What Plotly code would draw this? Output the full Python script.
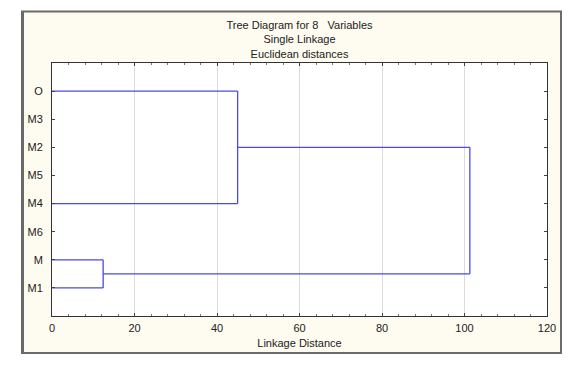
import plotly.graph_objects as go

# ---- data ----
labels = ["O", "M3", "M2", "M5", "M4", "M6", "M", "M1"]
merge_left = ["O", "M", "C1"]
merge_right = ["M4", "M1", "C2"]
merge_height = [45.0, 12.4, 101.3]
merge_name = ["C1", "C2", "C3"]
x_ticks = [0, 20, 40, 60, 80, 100, 120]

# ---- build dendrogram segments ----
pos = {lab: float(i) for i, lab in enumerate(labels)}
hgt = {lab: 0.0 for lab in labels}
xs, ys = [], []
for a, b, h, n in zip(merge_left, merge_right, merge_height, merge_name):
    for c in (a, b):
        xs += [hgt[c], h, None]
        ys += [pos[c], pos[c], None]
    xs += [h, h, None]
    ys += [pos[a], pos[b], None]
    pos[n] = (pos[a] + pos[b]) / 2
    hgt[n] = h

W, H = 577, 366
L, R, T, B = 52, 30, 63, 50

fig = go.Figure()
fig.add_trace(go.Scatter(x=xs, y=ys, mode="lines",
                         line=dict(color="#4a4ae6", width=1.3),
                         hoverinfo="skip", showlegend=False))

def px(x):
    return (x - L) / (W - L - R)

def py(y):
    return 1 - (y - T) / (H - T - B)

FONT = "Liberation Sans, Arial, sans-serif"
# cream frame
fig.add_shape(type="rect", xref="paper", yref="paper",
              x0=px(22), x1=px(561), y0=py(353), y1=py(11.5),
              fillcolor="#fefbf0", line=dict(color="#6a6a6a", width=2), layer="below")
fig.add_shape(type="line", xref="paper", yref="paper",
              x0=px(22.5), x1=px(22.5), y0=py(354), y1=py(11),
              line=dict(color="#6a6a6a", width=3), layer="below")
# white plot area
fig.add_shape(type="rect", xref="paper", yref="paper",
              x0=0, x1=1, y0=0, y1=1,
              fillcolor="white", line=dict(width=0), layer="below")

fig.update_layout(
    width=W, height=H,
    margin=dict(l=L, r=R, t=T, b=B),
    paper_bgcolor="white",
    plot_bgcolor="rgba(0,0,0,0)",
    font=dict(family=FONT, size=11, color="#222222"),
    title=dict(text="Tree Diagram for 8   Variables<br>Single Linkage<br>Euclidean distances",
               x=0.5, xref="paper", xanchor="center",
               y=1 - 29 / H, yref="container", yanchor="top",
               font=dict(family=FONT, size=11, color="#222222")),
    xaxis=dict(range=[0, 120], tickvals=x_ticks, ticks="inside", ticklen=3,
               tickcolor="#444444", showline=True, linecolor="#333333", linewidth=1,
               mirror="ticks", showgrid=True, gridcolor="#dcdcdc", gridwidth=1,
               zeroline=False, ticklabelstandoff=2,
               minor=dict(dtick=4, ticks="inside", ticklen=2, tickcolor="#777777", showgrid=False),
               title=dict(text="Linkage Distance", standoff=6,
                          font=dict(family=FONT, size=11, color="#222222"))),
    yaxis=dict(range=[8, -1], tickvals=list(range(len(labels))), ticktext=labels,
               ticks="inside", ticklen=3, tickcolor="#444444",
               showline=True, linecolor="#333333", linewidth=1, mirror="ticks",
               showgrid=False, zeroline=False, ticklabelstandoff=6),
)

fig.write_html("out.html", config={"displayModeBar": False})
with open("out.html", encoding="utf-8") as f:
    html = f.read()
html = html.replace("<body>", '<body style="margin:0;padding:0;">', 1)
with open("out.html", "w", encoding="utf-8") as f:
    f.write(html)
